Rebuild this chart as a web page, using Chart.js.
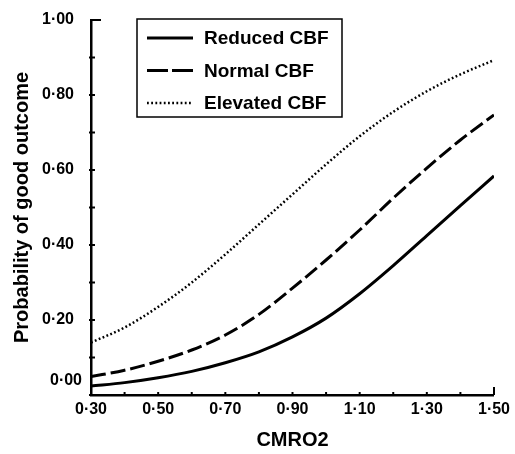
<!DOCTYPE html>
<html>
<head>
<meta charset="utf-8">
<script src="https://cdn.jsdelivr.net/npm/chart.js@4.4.1/dist/chart.umd.min.js"></script>
<style>
  html, body { margin: 0; padding: 0; background: #fff; }
  #wrap { width: 515px; height: 454px; }
</style>
</head>
<body>
<div id="wrap"><canvas id="OutcomeChart" width="515" height="454"></canvas></div>
<script>
// valores
const cmro2 = [0.30, 0.40, 0.50, 0.60, 0.70, 0.80, 0.90, 1.00, 1.10, 1.20, 1.30, 1.40, 1.50];
const reducedCBF  = [0.024, 0.033, 0.046, 0.063, 0.086, 0.115, 0.155, 0.205, 0.270, 0.345, 0.425, 0.505, 0.584];
const normalCBF   = [0.049, 0.066, 0.090, 0.120, 0.160, 0.215, 0.285, 0.360, 0.440, 0.525, 0.605, 0.680, 0.747];
const elevatedCBF = [0.140, 0.180, 0.235, 0.300, 0.375, 0.455, 0.535, 0.615, 0.690, 0.755, 0.810, 0.855, 0.893];
const seriesNames = ["Reduced CBF", "Normal CBF", "Elevated CBF"];
const xTickLabels = ["0·30", "0·50", "0·70", "0·90", "1·10", "1·30", "1·50"];
const yTickLabels = ["0·00", "0·20", "0·40", "0·60", "0·80", "1·00"];

const FONT = "'Liberation Sans', Arial, sans-serif";

function pts(ys) {
    return cmro2.map((x, i) => ({ x: x, y: ys[i] }));
}

// ticks hacia dentro, etiqueta 0·00 levantada y leyenda con recuadro
const paperAxes = {
    id: "paperAxes",
    afterDraw(chart) {
        const ctx = chart.ctx;
        const xs = chart.scales.x, ys = chart.scales.y;
        const ax = xs.left, ay = ys.bottom;
        ctx.save();
        ctx.strokeStyle = "#000";
        ctx.lineWidth = 2;
        for (let i = 0; i <= 10; i++) {
            const py = ys.getPixelForValue(i / 10);
            ctx.beginPath();
            if (i === 10) { ctx.moveTo(ax, py); ctx.lineTo(ax + 10, py); }
            else { ctx.moveTo(ax - 2, py); ctx.lineTo(ax + 4, py); }
            ctx.stroke();
        }
        for (let i = 0; i <= 12; i++) {
            const px = xs.getPixelForValue(0.3 + i / 10);
            ctx.beginPath();
            if (i === 12) { ctx.moveTo(px, ay); ctx.lineTo(px, ay - 8); }
            else { ctx.moveTo(px, ay + 1); ctx.lineTo(px, ay - 3); }
            ctx.stroke();
        }
        // etiqueta del cero
        ctx.fillStyle = "#000";
        ctx.font = "bold 16px " + FONT;
        ctx.textAlign = "right";
        ctx.textBaseline = "middle";
        ctx.fillText(yTickLabels[0], ax - 9, ys.getPixelForValue(0) - 14);

        // leyenda
        const bx = ax + 46, by = ys.top - 1, bw = 205, bh = 98;
        ctx.lineWidth = 1.5;
        ctx.strokeRect(bx, by, bw, bh);
        ctx.font = "bold 19px " + FONT;
        ctx.textAlign = "left";
        chart.data.datasets.forEach((ds, i) => {
            const ly = by + 19 + i * 32.5;
            ctx.save();
            ctx.lineWidth = ds.borderWidth;
            ctx.setLineDash(i === 1 ? [21, 4] : (ds.borderDash || []));
            ctx.beginPath();
            ctx.moveTo(bx + 10, ly);
            ctx.lineTo(bx + 56, ly);
            ctx.stroke();
            ctx.restore();
            ctx.fillText(ds.label, bx + 67, ly + 1);
        });
        ctx.restore();
    }
};

let outcomeCanvas = document.getElementById("OutcomeChart").getContext("2d");
let outcomeChart = new Chart(outcomeCanvas, {
    type: "line",
    data: {
        datasets: [{
            label: seriesNames[0],
            data: pts(reducedCBF),
            borderColor: "#000",
            borderWidth: 3,
            pointRadius: 0,
            cubicInterpolationMode: "monotone"
        }, {
            label: seriesNames[1],
            data: pts(normalCBF),
            borderColor: "#000",
            borderWidth: 3,
            borderDash: [15, 5],
            pointRadius: 0,
            cubicInterpolationMode: "monotone"
        }, {
            label: seriesNames[2],
            data: pts(elevatedCBF),
            borderColor: "#000",
            borderWidth: 2.5,
            borderDash: [1.8, 2.4],
            pointRadius: 0,
            cubicInterpolationMode: "monotone"
        }]
    },
    options: {
        responsive: false,
        animation: false,
        layout: { padding: { top: 20, right: 18, left: 0, bottom: 0 } },
        plugins: {
            legend: { display: false },
            tooltip: { enabled: false }
        },
        scales: {
            x: {
                type: "linear",
                min: 0.3,
                max: 1.5,
                grid: { display: false, drawTicks: false },
                border: { display: true, color: "#000", width: 2.5 },
                ticks: {
                    stepSize: 0.1,
                    autoSkip: false,
                    maxRotation: 0,
                    padding: 5,
                    color: "#000",
                    font: { family: FONT, size: 16, weight: "bold" },
                    callback: (v) => {
                        const k = Math.round(v * 10);
                        return k % 2 === 1 ? xTickLabels[(k - 3) / 2] : "";
                    }
                },
                title: {
                    display: true,
                    text: "CMRO2",
                    color: "#000",
                    font: { family: FONT, size: 20, weight: "bold" },
                    padding: { top: 0, bottom: 2 }
                },
                afterFit: (s) => { s.height = 59; }
            },
            y: {
                min: 0,
                max: 1,
                grid: { display: false },
                border: { display: true, color: "#000", width: 2.5 },
                ticks: {
                    stepSize: 0.1,
                    autoSkip: false,
                    padding: 9,
                    color: "#000",
                    font: { family: FONT, size: 16, weight: "bold" },
                    callback: (v) => {
                        const k = Math.round(v * 10);
                        return (k % 2 === 0 && k > 0) ? yTickLabels[k / 2] : "";
                    }
                },
                title: {
                    display: true,
                    text: "Probability of good outcome",
                    color: "#000",
                    font: { family: FONT, size: 20, weight: "bold" },
                    padding: { top: 10, bottom: 0 }
                },
                afterFit: (s) => { s.width = 91; }
            }
        }
    },
    plugins: [paperAxes]
});
</script>
</body>
</html>
